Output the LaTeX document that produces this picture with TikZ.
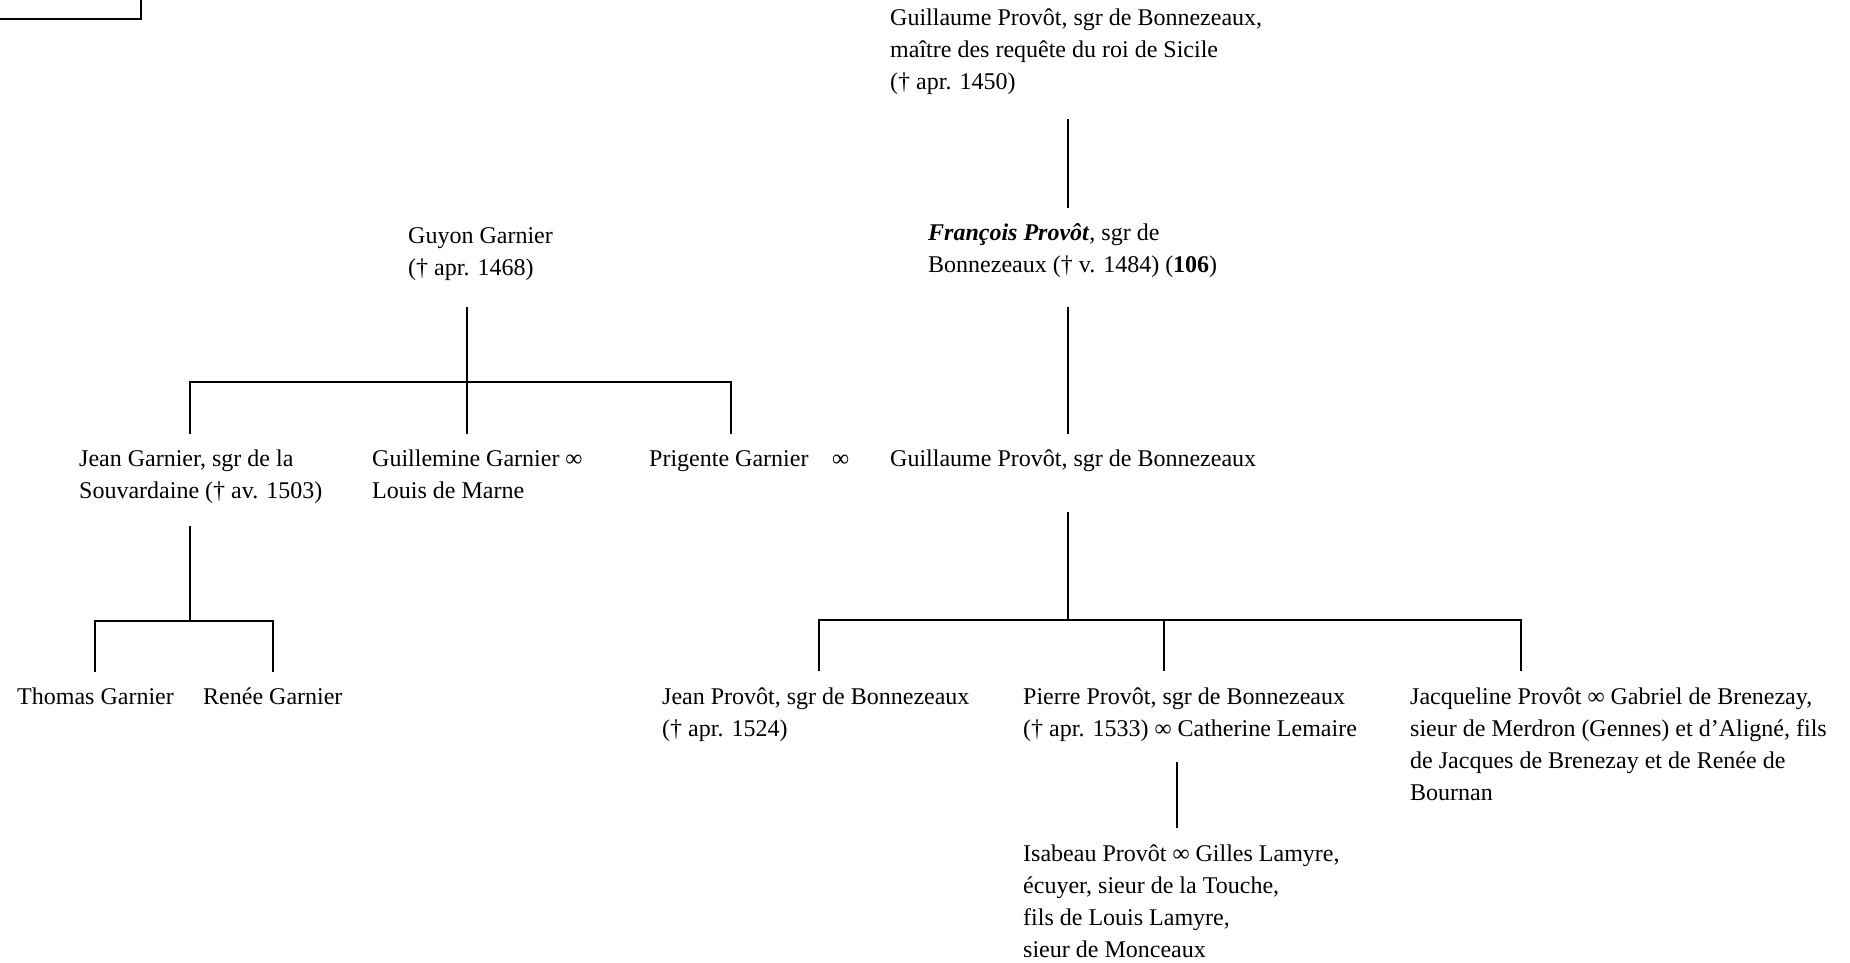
\documentclass[tikz,border=0pt]{standalone}
\usepackage{fontspec}
\setmainfont{Liberation Serif}
\newcommand{\ml}[1]{\begin{tabular}[t]{@{}l@{}}#1\end{tabular}}
\begin{document}
\begin{tikzpicture}[x=1pt,y=-1pt,
  txt/.style={anchor=base west, inner sep=0pt, font=\fontsize{24}{32}\selectfont},
  ln/.style={line width=1.5pt, line cap=rect}]
\useasboundingbox (0,0) rectangle (1850,962);
\fill[white] (0,0) rectangle (1850,962);

% top-left box corner
\coordinate (bx1) at (0,19);
\coordinate (bx2) at (141,19);
\coordinate (bx3) at (141,0);
\draw[ln] (bx1) -- (bx2) -- (bx3);

% nodes
\node[txt] (top) at (890,25) {\ml{Guillaume Provôt, sgr de Bonnezeaux,\\maître des requête du roi de Sicile\\(† apr. 1450)}};
\node[txt] (fra) at (928,240) {\ml{\textbf{\textit{François Provôt}}, sgr de\\Bonnezeaux († v. 1484) (\textbf{106})}};
\node[txt] (guyon) at (408,243) {\ml{Guyon Garnier\\(† apr. 1468)}};
\node[txt] (jeanG) at (79,466) {\ml{Jean Garnier, sgr de la\\Souvardaine († av. 1503)}};
\node[txt] (guilm) at (372,466) {\ml{Guillemine Garnier ∞\\Louis de Marne}};
\node[txt] (prig) at (649,466) {Prigente Garnier};
\node[txt] (mar) at (832,466) {∞};
\node[txt] (guil2) at (890,466) {Guillaume Provôt, sgr de Bonnezeaux};
\node[txt] (thom) at (17,704) {Thomas Garnier};
\node[txt] (renee) at (203,704) {Renée Garnier};
\node[txt] (jeanP) at (662,704) {\ml{Jean Provôt, sgr de Bonnezeaux\\(† apr. 1524)}};
\node[txt] (pier) at (1023,704) {\ml{Pierre Provôt, sgr de Bonnezeaux\\(† apr. 1533) ∞ Catherine Lemaire}};
\node[txt] (jacq) at (1410,704) {\ml{Jacqueline Provôt ∞ Gabriel de Brenezay,\\sieur de Merdron (Gennes) et d’Aligné, fils\\de Jacques de Brenezay et de Renée de\\Bournan}};
\node[txt] (isab) at (1023,861) {\ml{Isabeau Provôt ∞ Gilles Lamyre,\\écuyer, sieur de la Touche,\\fils de Louis Lamyre,\\sieur de Monceaux}};

% connector points
\coordinate (top-d) at (1068,120);
\coordinate (fra-u) at (1068,207);
\coordinate (fra-d) at (1068,308);
\coordinate (guil2-u) at (1068,433);
\coordinate (guil2-d) at (1068,513);
\coordinate (guil2-bar) at (1068,620);
\coordinate (jeanP-bar) at (819,620);
\coordinate (jeanP-u) at (819,670);
\coordinate (pier-bar) at (1164,620);
\coordinate (pier-u) at (1164,670);
\coordinate (jacq-bar) at (1521,620);
\coordinate (jacq-u) at (1521,670);
\coordinate (pier-d) at (1177,763);
\coordinate (isab-u) at (1177,827);

\coordinate (guyon-d) at (467,308);
\coordinate (guyon-bar) at (467,382);
\coordinate (jeanG-bar) at (190,382);
\coordinate (jeanG-u) at (190,433);
\coordinate (guilm-u) at (467,433);
\coordinate (prig-bar) at (731,382);
\coordinate (prig-u) at (731,433);
\coordinate (jeanG-d) at (190,527);
\coordinate (jeanG-bar2) at (190,621);
\coordinate (thom-bar) at (95,621);
\coordinate (thom-u) at (95,671);
\coordinate (renee-bar) at (273,621);
\coordinate (renee-u) at (273,671);

% connectors
\draw[ln] (top-d) -- (fra-u);
\draw[ln] (fra-d) -- (guil2-u);
\draw[ln] (guil2-d) -- (guil2-bar);
\draw[ln] (jeanP-u) -- (jeanP-bar) -- (jacq-bar) -- (jacq-u);
\draw[ln] (pier-bar) -- (pier-u);
\draw[ln] (pier-d) -- (isab-u);

\draw[ln] (guyon-d) -- (guilm-u);
\draw[ln] (jeanG-u) -- (jeanG-bar) -- (prig-bar) -- (prig-u);
\draw[ln] (jeanG-d) -- (jeanG-bar2);
\draw[ln] (thom-u) -- (thom-bar) -- (renee-bar) -- (renee-u);
\end{tikzpicture}
\end{document}
